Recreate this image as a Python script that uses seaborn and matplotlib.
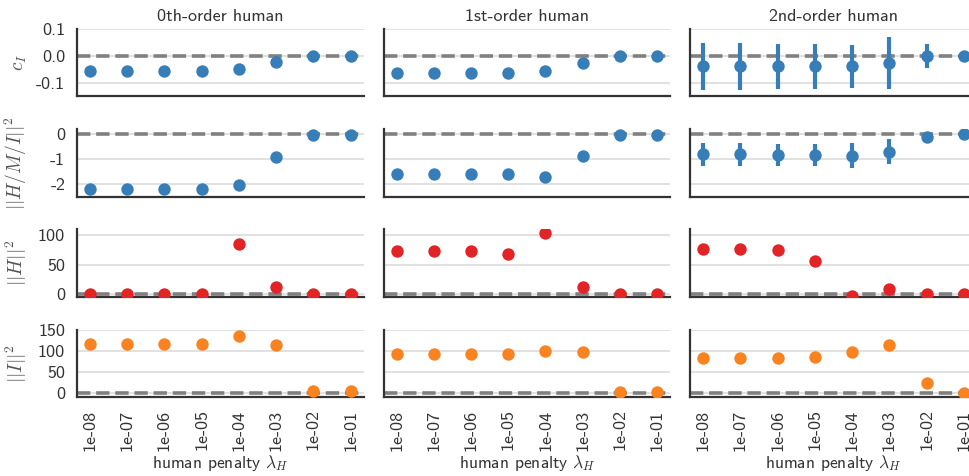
import numpy as np
import pandas as pd
import matplotlib
matplotlib.use("Agg")
import matplotlib.pyplot as plt
import seaborn as sns

penalties = ["1e-08", "1e-07", "1e-06", "1e-05", "1e-04", "1e-03", "1e-02", "1e-01"]
columns = ["0th-order human", "1st-order human", "2nd-order human"]
row_labels = [r"$c_I$", r"$||H/M/I||^2$", r"$||H||^2$", r"$||I||^2$"]

# row 1: c_I
c_I_0 = [-0.055, -0.055, -0.055, -0.055, -0.050, -0.021, 0.0, 0.0]
c_I_1 = [-0.064, -0.064, -0.064, -0.064, -0.057, -0.025, 0.0, 0.0]
c_I_2 = [-0.039, -0.039, -0.039, -0.039, -0.039, -0.026, 0.0, 0.0]
c_I_2_err = [0.088, 0.088, 0.083, 0.083, 0.081, 0.097, 0.046, 0.0]

# row 2: ||H/M/I||^2
hmi_0 = [-2.21, -2.21, -2.21, -2.21, -2.05, -0.93, -0.03, -0.03]
hmi_1 = [-1.59, -1.59, -1.59, -1.59, -1.73, -0.88, -0.03, -0.03]
hmi_2 = [-0.81, -0.81, -0.84, -0.85, -0.87, -0.70, -0.10, -0.01]
hmi_2_err = [0.45, 0.45, 0.43, 0.44, 0.50, 0.49, 0.18, 0.0]

# row 3: ||H||^2
h_0 = [0.0, 0.0, 0.0, 0.0, 86.0, 11.0, 0.0, 0.0]
h_1 = [73.0, 73.0, 73.0, 67.5, 103.5, 12.5, 0.5, 0.5]
h_2 = [76.0, 76.0, 75.0, 56.5, -3.0, 8.5, 0.5, 0.0]

# row 4: ||I||^2
i_0 = [115.5, 115.5, 115.5, 115.5, 135.5, 114.0, 4.7, 4.7]
i_1 = [93.0, 93.0, 93.0, 93.0, 99.0, 96.0, 0.8, 0.8]
i_2 = [82.5, 82.5, 82.5, 84.0, 97.5, 112.5, 23.0, -1.0]

blue = "#377eb8"
red = "#e22426"
orange = "#f98320"

rows = [
    ([c_I_0, c_I_1, c_I_2], [None, None, c_I_2_err], blue, (-0.15, 0.1), [-0.1, 0.0, 0.1], ["-0.1", "0.0", "0.1"]),
    ([hmi_0, hmi_1, hmi_2], [None, None, hmi_2_err], blue, (-2.5, 0.2), [-2, -1, 0], ["-2", "-1", "0"]),
    ([h_0, h_1, h_2], [None, None, None], red, (-5, 110), [0, 50, 100], ["0", "50", "100"]),
    ([i_0, i_1, i_2], [None, None, None], orange, (-10, 150), [0, 50, 100, 150], ["0", "50", "100", "150"]),
]

sns.set_style("whitegrid")
plt.rcParams["font.family"] = ["cmss10", "DejaVu Sans"]
plt.rcParams["mathtext.fontset"] = "cm"
plt.rcParams["axes.unicode_minus"] = False
plt.rcParams["axes.formatter.use_mathtext"] = False

fig, axes = plt.subplots(4, 3, figsize=(9.69, 4.76), dpi=100, sharey="row", sharex=True)
fig.subplots_adjust(left=0.0795, right=1.008, top=0.939, bottom=0.166, wspace=0.07, hspace=0.49)

text_color = "#333333"
for r, (vals_list, errs_list, color, ylim, yticks, yticklabels) in enumerate(rows):
    for c in range(3):
        ax = axes[r, c]
        vals = vals_list[c]
        df = pd.DataFrame({"penalty": penalties, "value": vals})
        ax.axhline(0, color="#808080", ls="--", lw=2.6, zorder=2)
        errs = errs_list[c]
        if errs is not None:
            ax.errorbar(np.arange(len(penalties)), vals, yerr=errs, fmt="none",
                        ecolor=color, elinewidth=3.0, capsize=0, zorder=3)
        sns.scatterplot(data=df, x="penalty", y="value", color=color, s=80,
                        linewidth=0, ax=ax, zorder=4, clip_on=True)
        ax.set_xlim(-0.35, 7.35)
        ax.set_ylim(*ylim)
        ax.set_yticks(yticks)
        ax.grid(axis="x", visible=False)
        ax.grid(axis="y", color="#dcdcdc", lw=1.2)
        for s in ["top", "right"]:
            ax.spines[s].set_visible(False)
        for s in ["left", "bottom"]:
            ax.spines[s].set_color(text_color)
            ax.spines[s].set_linewidth(1.6)
        ax.tick_params(axis="y", length=0, labelsize=13, colors=text_color, pad=8.5)
        ax.tick_params(axis="x", length=0, labelsize=13, colors=text_color, pad=9)
        ax.set_xlabel("")
        ax.set_ylabel("")
        if c == 0:
            ax.set_yticklabels(yticklabels)
            ax.set_ylabel(row_labels[r], fontsize=14, color="#555555", labelpad=5)
        if r == 0:
            ax.set_title(columns[c], fontsize=13, color=text_color, pad=6)
        if r == 3:
            ax.set_xticks(range(len(penalties)))
            ax.set_xticklabels(penalties, rotation=90)
            ax.set_xlabel(r"human penalty $\lambda_H$", fontsize=12.6, color=text_color, labelpad=2)

fig.align_ylabels(axes[:, 0])
fig.savefig("out.png", dpi=100)
